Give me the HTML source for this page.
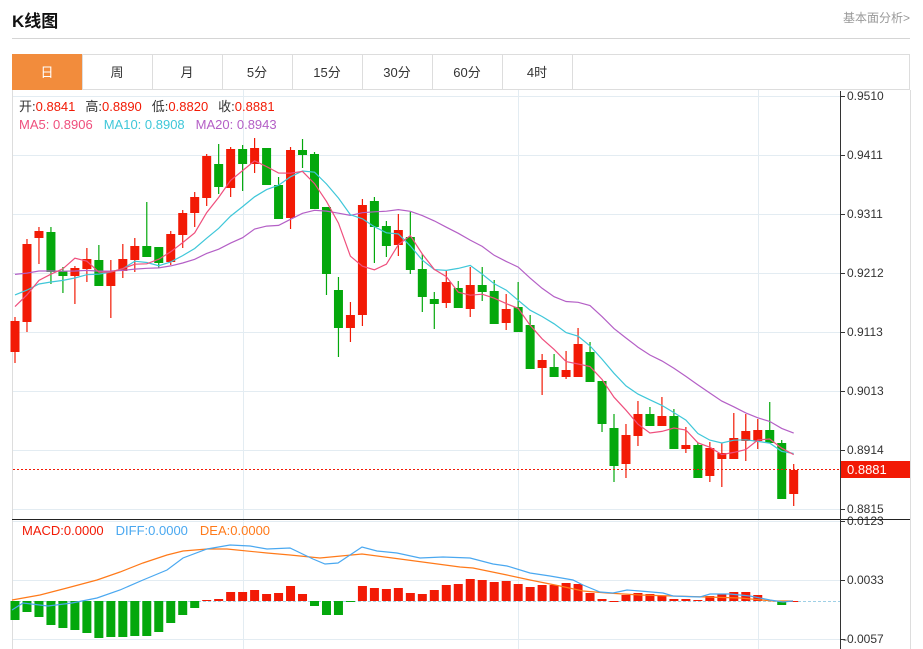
<!DOCTYPE html>
<html><head><meta charset="utf-8"><style>
body{margin:0;background:#fff;width:923px;height:649px;overflow:hidden;font-family:"Liberation Sans","Noto Sans CJK SC",sans-serif;}
#t{position:absolute;left:12px;top:7px;font-size:17px;font-weight:bold;color:#111;}
#r{position:absolute;left:843px;top:9px;font-size:12px;color:#999;}
svg{position:absolute;left:0;top:0}
</style></head><body>
<div id="t">K线图</div><div id="r">基本面分析&gt;</div>
<svg id="s" width="923" height="649" xmlns="http://www.w3.org/2000/svg"></svg>
<script>
const S=document.getElementById('s');let h='';
h+='<line x1="12" y1="38.5" x2="910" y2="38.5" stroke="#d5d5d5"/>';
// tabs
h+='<rect x="12.5" y="54.5" width="897" height="35" fill="#fff" stroke="#ddd"/>';
h+='<rect x="12" y="54" width="70" height="36" fill="#f28c3c"/>';
const tabs=['日','周','月','5分','15分','30分','60分','4时'];
tabs.forEach((t,i)=>{const x=12+i*70;if(i>0)h+=`<line x1="${x+0.5}" y1="54" x2="${x+0.5}" y2="90" stroke="#ddd"/>`;
h+=`<text x="${x+35}" y="77" text-anchor="middle" font-size="13" fill="${i==0?'#fff':'#333'}">${t}</text>`;});
h+='<line x1="572.5" y1="54" x2="572.5" y2="90" stroke="#ddd"/>';
// panel frame
h+='<line x1="12.5" y1="90" x2="12.5" y2="649" stroke="#ddd"/><line x1="910.5" y1="90" x2="910.5" y2="649" stroke="#ddd"/>';
// grid
const gl=[[96,'0.9510'],[155,'0.9411'],[214,'0.9311'],[273,'0.9212'],[332,'0.9113'],[391,'0.9013'],[450,'0.8914'],[509,'0.8815']];
gl.forEach(g=>{h+=`<line x1="13" y1="${g[0]+.5}" x2="840" y2="${g[0]+.5}" stroke="#e3ecf2"/><line x1="840" y1="${g[0]+.5}" x2="845" y2="${g[0]+.5}" stroke="#333"/><text x="847" y="${g[0]+4}" font-size="12" fill="#333">${g[1]}</text>`;});
[[521,'0.0123'],[580,'0.0033'],[639,'-0.0057']].forEach(g=>{h+=`<line x1="13" y1="${g[0]+.5}" x2="840" y2="${g[0]+.5}" stroke="#e3ecf2"/><line x1="840" y1="${g[0]+.5}" x2="845" y2="${g[0]+.5}" stroke="#333"/><text x="${g[1][0]=='-'?843:847}" y="${g[0]+4}" font-size="12" fill="#333">${g[1]}</text>`;});
[243,518,758].forEach(x=>{h+=`<line x1="${x+.5}" y1="90" x2="${x+.5}" y2="649" stroke="#e3ecf2"/>`;});
h+='<line x1="12" y1="519.5" x2="910" y2="519.5" stroke="#222"/><line x1="840.5" y1="91" x2="840.5" y2="649" stroke="#333"/>';
// candles [bodyTop,bodyBot,high,low,red?]
const C=[[321,352,317,363,1],[244,322,239,332,1],[231,238,227,264,1],[232,272,227,284,0],[271,276,267,293,0],[268,276,266,304,1],[259,269,248,282,1],[260,286,245,286,0],[271,286,260,318,1],[259,271,244,278,1],[246,260,238,272,1],[246,257,202,257,0],[247,263,247,268,0],[234,262,231,265,1],[213,235,210,248,1],[197,213,192,227,1],[156,198,154,206,1],[164,187,144,194,0],[149,188,147,197,1],[149,164,145,191,0],[148,164,138,173,1],[148,185,148,185,0],[185,219,177,219,0],[150,218,147,229,1],[150,155,139,168,0],[154,209,152,209,0],[207,274,207,295,0],[290,328,277,357,0],[315,328,302,342,1],[205,315,199,326,1],[201,227,197,263,0],[226,246,221,257,0],[230,245,214,256,1],[237,270,212,274,0],[269,297,254,312,0],[299,304,292,329,0],[282,303,271,308,1],[288,308,281,308,0],[285,309,267,317,1],[285,292,267,301,0],[291,324,280,324,0],[309,323,294,330,1],[307,332,282,332,0],[325,369,315,369,0],[360,368,354,395,1],[367,377,354,377,0],[370,377,351,379,1],[344,377,328,377,1],[352,382,342,382,0],[381,424,381,432,0],[428,466,414,482,0],[435,464,424,478,1],[414,436,401,446,1],[414,426,407,426,0],[416,426,397,426,1],[416,449,409,449,0],[445,449,427,453,1],[445,478,443,478,0],[448,476,442,482,1],[453,459,443,487,1],[438,459,413,459,1],[431,441,414,461,1],[430,441,419,449,1],[430,443,402,443,0],[443,499,440,499,0],[470,494,464,506,1]];
const X=i=>15+i*11.98;
const cl=C.map(c=>c[4]?c[0]:c[1]);
function ma(n,P){return cl.map((_,i)=>{let s=0;for(let k=i-n+1;k<=i;k++)s+=k<0?P:cl[k];return s/n;});}
function pl(a,col){return `<polyline fill="none" stroke="${col}" stroke-width="1.2" points="${a.map((v,i)=>X(i).toFixed(1)+','+v.toFixed(1)).join(' ')}"/>`;}
C.forEach((c,i)=>{const x=X(i),col=c[4]?'#f21a05':'#04a80c';
h+=`<line x1="${x}" y1="${c[2]}" x2="${x}" y2="${c[3]}" stroke="${col}" stroke-width="1.2"/><rect x="${x-4.5}" y="${c[0]}" width="9" height="${Math.max(1,c[1]-c[0])}" fill="${col}"/>`;});
h+=pl(ma(20,272),'#b45fc6')+pl(ma(10,292),'#3fc7d9')+pl(ma(5,303),'#ef4f7d');
// price line
h+='<line x1="13" y1="469.5" x2="840" y2="469.5" stroke="#f21a05" stroke-dasharray="2,2" stroke-width="1"/>';
h+='<rect x="841" y="461" width="69" height="17" fill="#f21a05"/><text x="847" y="474" font-size="13" fill="#fff">0.8881</text>';
// legend
h+='<text x="19" y="111" font-size="13"><tspan fill="#333">开:</tspan><tspan fill="#f21a05">0.8841</tspan><tspan dx="10" fill="#333">高:</tspan><tspan fill="#f21a05">0.8890</tspan><tspan dx="10" fill="#333">低:</tspan><tspan fill="#f21a05">0.8820</tspan><tspan dx="10" fill="#333">收:</tspan><tspan fill="#f21a05">0.8881</tspan></text>';
h+='<text x="19" y="129" font-size="13"><tspan fill="#ef4f7d">MA5: 0.8906</tspan><tspan dx="11" fill="#3fc7d9">MA10: 0.8908</tspan><tspan dx="11" fill="#b45fc6">MA20: 0.8943</tspan></text>';
// macd
const M=[620,612,617,625,628,630,633,638,637,637,636,636,632,623,615,608,600,599,592,592,590,594,593,586,594,606,615,615,602,586,588,589,588,593,594,590,585,584,579,580,582,581,584,587,585,585,583,584,593,599,601,595,593,594,596,599,599,600,596,594,592,592,595,600,605,601];
h+='<line x1="13" y1="601.5" x2="840" y2="601.5" stroke="#9fd0e6" stroke-dasharray="3,2"/>';
M.forEach((v,i)=>{const x=X(i);const top=Math.min(v,601),ht=Math.max(1,Math.abs(v-601));
h+=`<rect x="${x-4.5}" y="${top}" width="9" height="${ht}" fill="${v>601?'#04a80c':'#f21a05'}"/>`;});
const D=[[12,610],[23,603],[48,606],[72,603],[97,598],[120,590],[143,580],[167,570],[183,558],[207,549],[230,545],[250,546],[267,549],[290,548],[313,559],[325,564],[338,563],[362,547],[377,551],[397,553],[420,558],[443,557],[470,558],[493,564],[507,566],[530,573],[550,576],[573,580],[583,585],[600,592],[613,593],[627,590],[640,591],[663,593],[673,596],[700,597],[710,594],[730,594],[750,596],[770,600],[783,602],[793,601]];
const E=[[12,600],[40,595],[67,588],[97,580],[120,572],[143,563],[167,555],[183,551],[207,549],[227,549],[267,553],[290,555],[320,558],[362,554],[400,559],[430,563],[460,567],[473,568],[507,575],[530,580],[560,586],[583,591],[607,593],[640,595],[673,596],[707,597],[740,598],[773,601],[793,601]];
h+=`<polyline fill="none" stroke="#ff7a1a" stroke-width="1.2" points="${E.join(' ')}"/>`;
h+=`<polyline fill="none" stroke="#4aa8f0" stroke-width="1.2" points="${D.join(' ')}"/>`;
h+='<text x="22" y="535" font-size="13"><tspan fill="#f21a05">MACD:0.0000</tspan><tspan dx="12" fill="#4aa8f0">DIFF:0.0000</tspan><tspan dx="12" fill="#ff7a1a">DEA:0.0000</tspan></text>';
S.innerHTML=h;
</script>
</body></html>
